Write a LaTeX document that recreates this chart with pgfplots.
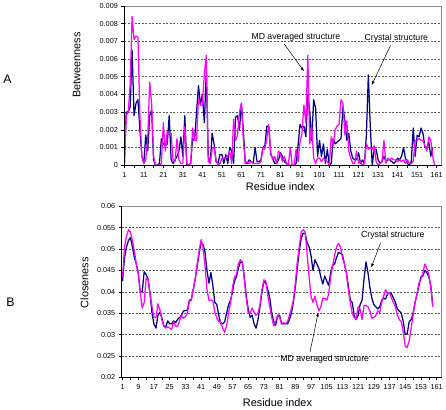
\documentclass[border=0pt]{standalone}
\usepackage{pgfplots}
\pgfplotsset{compat=1.18}
\usepackage{pgfplotstable}
\usepackage{fontspec}
\setmainfont{Liberation Sans}
\usetikzlibrary{arrows.meta}
\definecolor{crys}{RGB}{0,0,128}
\definecolor{md}{RGB}{255,0,255}

\pgfplotstableread{
r c m
1 0 0
2 0.0030 0.0028
3 0.0030 0.0030
4 0.0033 0.0045
5 0.0065 0.0084
6 0.0028 0.0071
7 0.0035 0.0073
8 0.0037 0.0072
9 0.0020 0.0028
10 0.0005 0.0005
11 0.0001 0.0001
12 0.0017 0.0003
13 0.0008 0.0015
14 0.0028 0.0047
15 0.0031 0.0035
16 0.0003 0.0005
17 0 0
18 0 0
19 0.0001 0
20 0.0015 0.0001
21 0.0012 0.0024
22 0.0011 0.0008
23 0.0012 0.0019
24 0.0028 0.0018
25 0.0003 0.0018
26 0.0001 0.0002
27 0.0003 0.0002
28 0.0005 0.0015
29 0.0008 0.0003
30 0.0016 0.0001
31 0.0005 0.0001
32 0.0028 0.0022
33 0 0.0001
34 0 0
35 0.0001 0.0001
36 0.0015 0.0021
37 0.0014 0.0014
38 0.0030 0.0014
39 0.0045 0.0038
40 0.0034 0.0034
41 0.0040 0.0034
42 0.0024 0.0052
43 0.0053 0.0062
44 0.0005 0.0002
45 0.0001 0.0001
46 0.0018 0.0009
47 0.0012 0.0010
48 0.0002 0.0003
49 0.0001 0
50 0.0006 0.0001
51 0.0006 0.0004
52 0.0001 0.0004
53 0.0006 0.0004
54 0.0001 0.0005
55 0.0010 0.0008
56 0.0008 0.0001
57 0.0001 0.0026
58 0.0027 0.0014
59 0.0028 0.0017
60 0.0020 0.0030
61 0.0035 0.0035
62 0.0019 0.0014
63 0.0001 0.0001
64 0.0001 0.0002
65 0.0003 0.0001
66 0.0002 0.0002
67 0.0001 0.0001
68 0.0010 0.0001
69 0.0002 0.0001
70 0.0002 0.0001
71 0.0003 0.0002
72 0.0010 0.0010
73 0.0011 0.0009
74 0.0022 0.0015
75 0.0022 0.0023
76 0.0006 0.0007
77 0.0004 0.0003
78 0.0001 0.0005
79 0.0001 0.0001
80 0.0003 0.0008
81 0.0007 0.0006
82 0.0005 0.0002
83 0.0002 0.0005
84 0.0001 0.0001
85 0 0
86 0 0.0010
87 0 0
88 0 0
89 0.0001 0.0009
90 0.0011 0.0002
91 0.0023 0.0013
92 0.0021 0.0018
93 0.0022 0.0034
94 0.0016 0.0024
95 0.0040 0.0062
96 0.0030 0.0012
97 0.0014 0.0022
98 0.0037 0.0004
99 0.0032 0.0001
100 0.0005 0.0004
101 0.0014 0.0004
102 0.0005 0.0002
103 0.0012 0.0004
104 0.0001 0.0003
105 0.0009 0.0002
106 0 0
107 0.0001 0.0016
108 0.0015 0.0011
109 0.0012 0.0020
110 0.0013 0.0022
111 0.0014 0.0023
112 0.0015 0.0037
113 0.0033 0.0035
114 0.0025 0.0017
115 0.0014 0.0025
116 0.0018 0.0008
117 0.0008 0.0004
118 0.0004 0.0001
119 0.0003 0.0001
120 0.0003 0.0008
121 0.0007 0.0001
122 0.0001 0.0002
123 0.0003 0
124 0.0001 0.0001
125 0.0017 0.0012
126 0.0051 0.0009
127 0.0022 0.0010
128 0 0.0009
129 0.0009 0.0011
130 0.0009 0.0002
131 0.0003 0
132 0.0001 0.0001
133 0.0002 0.0002
134 0.0005 0.0014
135 0.0002 0.0001
136 0.0003 0.0004
137 0.0003 0.0003
138 0.0002 0.0004
139 0.0001 0.0003
140 0.0002 0.0003
141 0.0004 0.0002
142 0.0003 0.0003
143 0.0005 0.0002
144 0.0010 0.0003
145 0.0004 0.0001
146 0.0001 0.0003
147 0 0.0001
148 0.0002 0.0001
149 0.0021 0.0002
150 0.0005 0.0014
151 0.0017 0.0014
152 0.0016 0.0015
153 0.0021 0.0014
154 0.0018 0.0014
155 0.0010 0.0011
156 0.0010 0.0008
157 0.0013 0.0016
158 0.0005 0.0014
159 0.0010 0.0005
160 nan 0
}\betw

\pgfplotstableread{
r c m
1 0.0425 0.0435
2 0.0480 0.0505
3 0.0505 0.0530
4 0.0520 0.0545
5 0.0527 0.0540
6 0.0505 0.0520
7 0.0480 0.0495
8 0.0465 0.0465
9 0.0445 0.0440
10 0.0400 0.0400
11 0.0400 0.0362
12 0.0447 0.0375
13 0.0440 0.0432
14 0.0430 0.0428
15 0.0395 0.0395
16 0.0350 0.0365
17 0.0325 0.0340
18 0.0315 0.0340
19 0.0345 0.0372
20 0.0352 0.0358
21 0.0340 0.0335
22 0.0320 0.0320
23 0.0318 0.0315
24 0.0332 0.0318
25 0.0325 0.0315
26 0.0325 0.0312
27 0.0332 0.0330
28 0.0328 0.0320
29 0.0335 0.0318
30 0.0340 0.0332
31 0.0345 0.0345
32 0.0355 0.0338
33 0.0356 0.0342
34 0.0357 0.0350
35 0.0380 0.0378
36 0.0382 0.0380
37 0.0405 0.0405
38 0.0430 0.0430
39 0.0460 0.0465
40 0.0490 0.0495
41 0.0515 0.0522
42 0.0510 0.0505
43 0.0493 0.0460
44 0.0450 0.0405
45 0.0420 0.0380
46 0.0445 0.0380
47 0.0415 0.0380
48 0.0375 0.0352
49 0.0370 0.0340
50 0.0345 0.0330
51 0.0325 0.0330
52 0.0325 0.0315
53 0.0330 0.0305
54 0.0350 0.0320
55 0.0370 0.0350
56 0.0380 0.0375
57 0.0400 0.0410
58 0.0425 0.0435
59 0.0435 0.0440
60 0.0455 0.0465
61 0.0470 0.0475
62 0.0468 0.0470
63 0.0435 0.0430
64 0.0390 0.0385
65 0.0360 0.0350
66 0.0340 0.0350
67 0.0345 0.0362
68 0.0325 0.0352
69 0.0315 0.0345
70 0.0335 0.0350
71 0.0365 0.0370
72 0.0400 0.0405
73 0.0425 0.0428
74 0.0420 0.0425
75 0.0405 0.0390
76 0.0385 0.0365
77 0.0350 0.0340
78 0.0330 0.0320
79 0.0322 0.0330
80 0.0345 0.0345
81 0.0345 0.0340
82 0.0325 0.0325
83 0.0325 0.0328
84 0.0325 0.0325
85 0.0325 0.0330
86 0.0335 0.0345
87 0.0350 0.0360
88 0.0375 0.0380
89 0.0410 0.0420
90 0.0455 0.0470
91 0.0495 0.0505
92 0.0525 0.0540
93 0.0537 0.0545
94 0.0537 0.0540
95 0.0515 0.0490
96 0.0505 0.0435
97 0.0485 0.0390
98 0.0450 0.0375
99 0.0475 0.0390
100 0.0465 0.0370
101 0.0455 0.0355
102 0.0435 0.0365
103 0.0418 0.0385
104 0.0437 0.0385
105 0.0425 0.0380
106 0.0415 0.0395
107 0.0445 0.0435
108 0.0462 0.0460
109 0.0465 0.0485
110 0.0480 0.0505
111 0.0492 0.0513
112 0.0490 0.0505
113 0.0487 0.0480
114 0.0465 0.0465
115 0.0445 0.0445
116 0.0415 0.0405
117 0.0380 0.0375
118 0.0375 0.0350
119 0.0345 0.0340
120 0.0335 0.0335
121 0.0345 0.0365
122 0.0370 0.0360
123 0.0380 0.0335
124 0.0430 0.0368
125 0.0470 0.0368
126 0.0445 0.0365
127 0.0410 0.0355
128 0.0385 0.0338
129 0.0370 0.0340
130 0.0365 0.0345
131 0.0360 0.0355
132 0.0365 0.0352
133 0.0380 0.0375
134 0.0385 0.0390
135 0.0383 0.0405
136 0.0395 0.0395
137 0.0398 0.0398
138 0.0395 0.0385
139 0.0385 0.0375
140 0.0375 0.0365
141 0.0360 0.0345
142 0.0355 0.0335
143 0.0350 0.0330
144 0.0330 0.0305
145 0.0300 0.0272
146 0.0302 0.0270
147 0.0330 0.0285
148 0.0335 0.0315
149 0.0350 0.0345
150 0.0375 0.0375
151 0.0395 0.0395
152 0.0415 0.0420
153 0.0435 0.0430
154 0.0437 0.0445
155 0.0450 0.0465
156 0.0445 0.0455
157 0.0435 0.0440
158 0.0415 0.0410
159 0.0370 0.0365
}\clos

\pgfplotsset{
  excel/.style={
    scale only axis,
    tick align=outside,
    tick pos=left,
    major tick length=3bp,
    minor tick length=3bp,
    tick style={black,line width=0.5bp},
    axis line style={black!45,line width=0.6bp},
    ymajorgrids,
    grid style={black!65,line width=0.5bp,dash pattern=on 2bp off 1.5bp},
    tick label style={font=\fontsize{7.3}{8}\selectfont},
    /pgf/number format/assume math mode=true,
    yticklabel style={/pgf/number format/fixed,/pgf/number format/precision=3},
    scaled y ticks=false,
    xticklabel style={yshift=-1bp},
    after end axis/.code={\draw[black,line width=0.6bp] (rel axis cs:0,1) -- (rel axis cs:0,0) -- (rel axis cs:1,0);},
    every axis plot/.append style={line width=1.25bp,line join=round},
  }
}

\begin{document}
\begin{tikzpicture}
\path (0bp,0bp) rectangle (446bp,408bp);

% Panel A
\begin{axis}[excel,
  at={(124bp,244.3bp)}, anchor=south west,
  width=319bp, height=160.2bp,
  xmin=1, xmax=163.5, ymin=0, ymax=0.009,
  xtick={1,11,...,161}, minor xtick={6,16,...,156},
  ytick={0,0.001,0.002,0.003,0.004,0.005,0.006,0.007,0.008,0.009},
]
\addplot[crys] table[x=r,y=c] {\betw};
\addplot[md] table[x=r,y=m] {\betw};
\end{axis}

% Panel B
\begin{axis}[excel,
  at={(121.3bp,31bp)}, anchor=south west,
  width=321.7bp, height=172bp,
  xmin=0.5, xmax=163.5, ymin=0.02, ymax=0.06,
  xtick={1,9,...,161}, minor xtick={5,13,...,157},
  ytick={0.02,0.025,0.03,0.035,0.04,0.045,0.05,0.055,0.06},
]
\addplot[crys] table[x=r,y=c] {\clos};
\addplot[md] table[x=r,y=m] {\clos};
\end{axis}

% labels
\node[font=\fontsize{12.5}{14}\selectfont] at (6.5bp,331bp) {A};
\node[font=\fontsize{12.5}{14}\selectfont] at (9.5bp,106bp) {B};
\node[rotate=90,font=\fontsize{11}{13}\selectfont] at (76bp,345bp) {Betweenness};
\node[rotate=90,font=\fontsize{11}{13}\selectfont] at (84bp,126bp) {Closeness};
\node[font=\fontsize{11}{13}\selectfont] at (281bp,223bp) {Residue index};
\node[font=\fontsize{11}{13}\selectfont] at (278bp,6bp) {Residue index};

% annotations
\node[font=\fontsize{8.8}{10}\selectfont] at (296.5bp,373bp) {MD averaged structure};
\draw[line width=0.5bp,-{Latex[length=4bp,width=3bp]}] (284.7bp,366.3bp) -- (304.7bp,338.7bp);
\node[font=\fontsize{8.8}{10}\selectfont] at (397.5bp,372.3bp) {Crystal structure};
\draw[line width=0.5bp,-{Latex[length=4bp,width=3bp]}] (391.7bp,364.7bp) -- (372.7bp,324.7bp);

\node[font=\fontsize{8.8}{10}\selectfont] at (394bp,173.7bp) {Crystal structure};
\draw[line width=0.5bp,-{Latex[length=4bp,width=3bp]}] (381.7bp,166.3bp) -- (372.3bp,141.3bp);
\node[font=\fontsize{8.8}{10}\selectfont] at (325.5bp,48.7bp) {MD averaged structure};
\draw[line width=0.5bp,-{Latex[length=4bp,width=3bp]}] (310.7bp,56.3bp) -- (319bp,96.3bp);
\end{tikzpicture}
\end{document}
